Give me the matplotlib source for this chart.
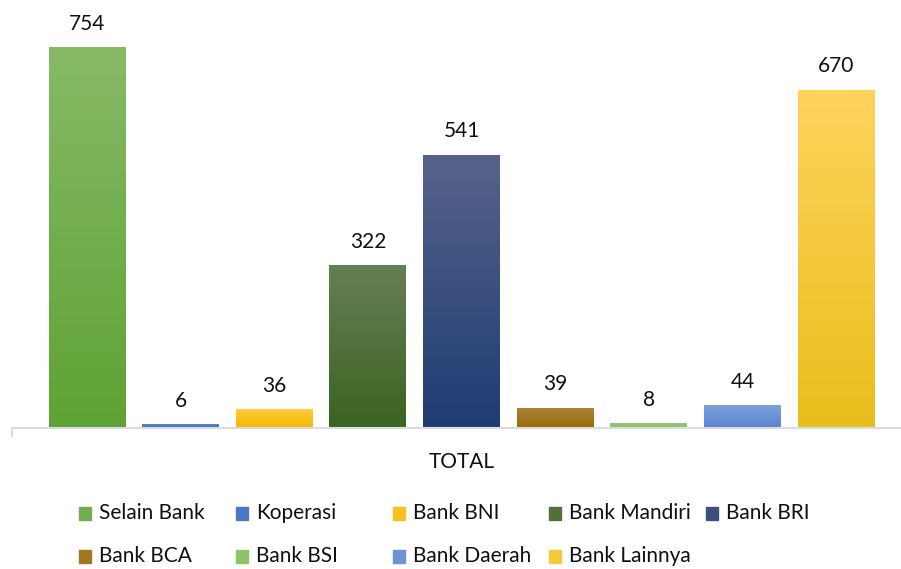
import numpy as np
import matplotlib
matplotlib.use('Agg')
import matplotlib.pyplot as plt
from matplotlib.colors import LinearSegmentedColormap
from matplotlib.patches import Rectangle

plt.rcParams['font.family'] = ['Lato', 'DejaVu Sans']

# data
labels = ['Selain Bank', 'Koperasi', 'Bank BNI', 'Bank Mandiri', 'Bank BRI',
          'Bank BCA', 'Bank BSI', 'Bank Daerah', 'Bank Lainnya']
values = [754, 6, 36, 322, 541, 39, 8, 44, 670]
category = 'TOTAL'

# gradient colours (top, bottom)
top_colors = ['#87ba67', '#5882cd', '#ffcb3a', '#667f56', '#57638a',
              '#a8843f', '#94c872', '#7ea1dc', '#ffd35c']
bot_colors = ['#5fa234', '#3e6cc0', '#f2b800', '#3b6320', '#1e3c74',
              '#9a6a00', '#88c060', '#5a84cf', '#e8be1c']

W, H = 901, 569
fig = plt.figure(figsize=(W / 100, H / 100), dpi=100)
ax = fig.add_axes([12 / W, 141 / H, 899 / W, 428 / H])

x = np.arange(len(values))
bw = 0.82
bars = ax.bar(x, values, width=bw, color='none', edgecolor='none', zorder=2)
grad = np.linspace(0, 1, 256).reshape(-1, 1)
for b, t, bo in zip(bars, top_colors, bot_colors):
    cmap = LinearSegmentedColormap.from_list('g', [bo, t])
    x0 = b.get_x()
    ax.imshow(grad, extent=[x0, x0 + b.get_width(), 0, b.get_height()],
              origin='lower', cmap=cmap, aspect='auto', zorder=2)

for xi, v in zip(x, values):
    ax.annotate(str(v), (xi, v), xytext=(0, 10), textcoords='offset points',
                ha='center', va='bottom', fontsize=15, color='#111111')

ax.set_xlim(-0.8, 8.8)
ax.set_ylim(0, 428 / 0.504)

for s in ['top', 'right', 'left']:
    ax.spines[s].set_visible(False)
ax.spines['bottom'].set_color('#d9dde3')
ax.spines['bottom'].set_linewidth(1.5)
ax.set_yticks([])
ax.set_xticks([4])
ax.set_xticklabels([category], fontsize=15, color='#111111')
ax.tick_params(axis='x', which='major', length=0, pad=17)
ax.set_xticks([-0.8, 8.8], minor=True)
ax.tick_params(axis='x', which='minor', length=6.5, width=1.5, color='#d9dde3')

# legend with fixed column widths
col_x = [79, 236, 393, 549, 706]
row_y = [513, 556]
for i, lab in enumerate(labels):
    r, c = divmod(i, 5)
    px, py = col_x[c], row_y[r]
    mid = LinearSegmentedColormap.from_list('m', [bot_colors[i], top_colors[i]])(0.5)
    fig.patches.append(Rectangle((px / W, (H - py - 6.5) / H), 12 / W, 13 / H,
                                 transform=fig.transFigure, color=mid))
    fig.text((px + 20) / W, (H - py) / H, lab, fontsize=15, color='#111111',
             ha='left', va='center')

fig.savefig('out.png', dpi=100)
